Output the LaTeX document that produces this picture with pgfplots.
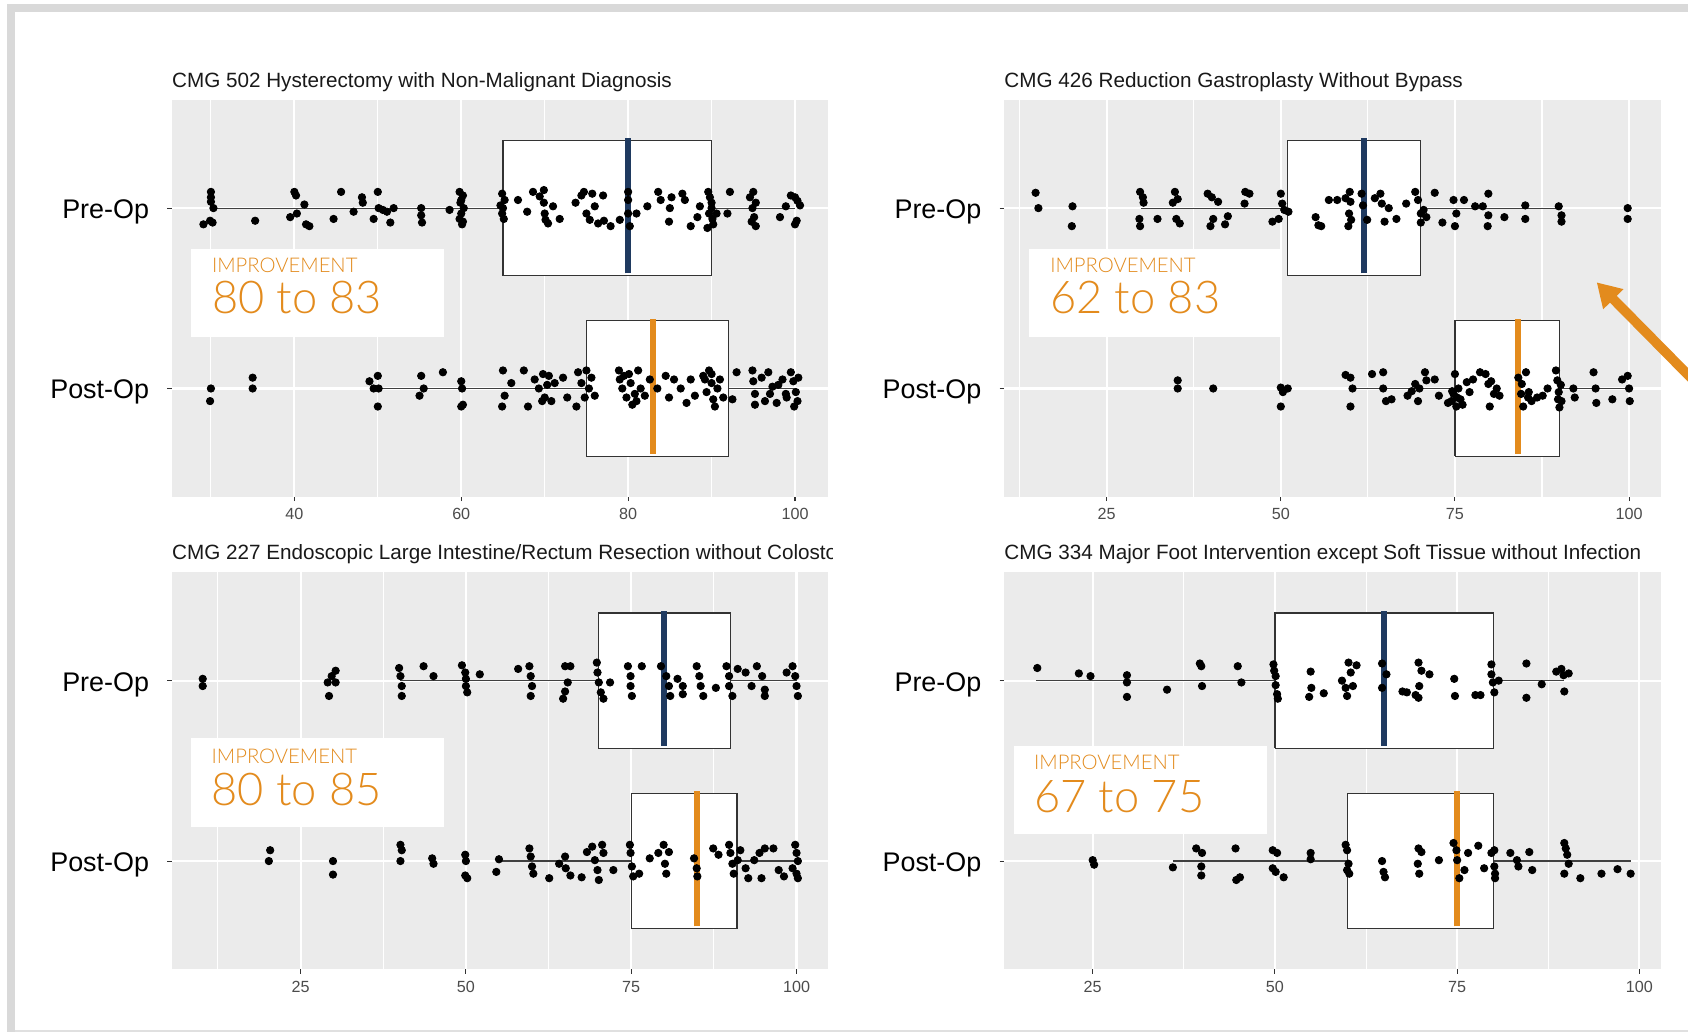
\documentclass[border=0pt]{standalone}
\usepackage{fontspec}
\setmainfont{Liberation Sans}
\IfFontExistsTF{Lato Light}{\newfontfamily\lightfont{Lato Light}}{\newfontfamily\lightfont{Liberation Sans}}
\usepackage{pgfplots}
\pgfplotsset{compat=1.18}
\usetikzlibrary{arrows.meta}
\definecolor{panelbg}{HTML}{EBEBEB}
\definecolor{orangeA}{HTML}{E38B1D}
\definecolor{navyA}{HTML}{1F3A60}
\definecolor{frameG}{HTML}{D9D9D9}
\pgfplotsset{
 panel/.style={
  scale only axis, width=305pt, height=184.3pt, anchor=south west,
  ymin=0.4, ymax=2.6, ytick={1,2}, yticklabels={Post-Op,Pre-Op},
  axis background/.style={fill=panelbg},
  axis line style={draw=none},
  xmajorgrids, xminorgrids, ymajorgrids,
  major grid style={white, line width=1pt},
  minor grid style={white, line width=0.5pt},
  tick align=outside, xtick pos=left, ytick pos=left,
  major tick length=2pt, minor tick length=0pt,
  major tick style={black!80, line width=0.5pt},
  minor tick style={draw=none},
  /pgf/number format/assume math mode=true,
  xticklabel style={font=\fontsize{7.5}{9}\selectfont, text=black!70},
  yticklabel style={font=\fontsize{12.5}{15}\selectfont, text=black, xshift=-5pt, yshift=-1.8pt},
 },
 pts/.style={only marks, mark=*, mark size=1.7pt, mark options={draw=black, fill=black}},
 boxs/.style={draw=black!80, line width=0.55pt, fill=white, mark=none},
 whs/.style={black!75, line width=0.55pt, mark=none},
 medpre/.style={navyA, line width=2.8pt, mark=none},
 medpost/.style={orangeA, line width=2.8pt, mark=none},
}
\newcommand{\titlefont}{\fontsize{9.6}{11}\selectfont}
\newcommand{\impfont}{\lightfont\fontsize{9.4}{11}\selectfont}
\newcommand{\numfont}{\lightfont\fontsize{21}{24}\selectfont}
\begin{document}
\begin{tikzpicture}
\useasboundingbox (0,0) rectangle (784pt,479.5pt);
\fill[white] (0,0) rectangle (784pt,479.5pt);

% ---------------- Panel 1 ----------------
\begin{axis}[panel, at={(79.75pt,248.8pt)}, xmin=25.3, xmax=104.0,
  xtick={40,60,80,100}, minor xtick={30,50,70,90}]
\addplot[whs] coordinates {(30,2) (65,2)};
\addplot[whs] coordinates {(90,2) (100,2)};
\addplot[boxs] coordinates {(65,1.625) (90,1.625) (90,2.375) (65,2.375) (65,1.625)};
\addplot[whs] coordinates {(50,1) (75,1)};
\addplot[whs] coordinates {(92,1) (100,1)};
\addplot[boxs] coordinates {(75,0.625) (92,0.625) (92,1.375) (75,1.375) (75,0.625)};
\addplot[pts] table {
x y
30 2.09
30 2.06
30 2.035
30.3 2.0
29.9 1.93
29.1 1.91
30.2 1.92
35.3 1.93
40 2.09
40.2 2.07
40.3 1.97
39.5 1.95
41.2 2.02
41.4 1.91
41.8 1.90
44.7 1.94
45.6 2.09
47.1 1.98
48.1 2.06
48.2 2.03
49.5 1.94
50 2.09
50.1 2.0
50.6 1.99
51.5 1.92
51.9 2.0
51.1 1.98
55.2 2.0
55.2 1.96
55.3 1.92
58.6 1.99
59.8 2.09
60.2 2.07
60 2.045
59.9 2.03
60.3 2.0
60 1.97
59.8 1.94
60.2 1.925
60.1 1.91
64.9 2.08
65.2 2.045
64.7 2.015
65 2.0
64.9 1.97
65.1 1.94
66.8 2.045
67.9 1.98
68.6 2.09
69.9 2.10
69.4 2.065
69.9 2.03
70 1.97
70.1 1.935
70.4 1.915
71 2.01
71.8 1.94
73.7 2.03
74.4 2.07
74.7 2.09
75 1.97
75.4 1.935
75.7 2.08
76 2.01
76.4 1.915
77 2.07
77.1 1.93
77.9 1.90
79 1.935
80 2.09
80 2.045
80 1.97
80.2 1.90
81 1.97
82.3 2.01
83.6 2.09
83.9 2.045
84.9 1.925
85 2.0
85.2 2.06
86.5 2.08
86.8 2.045
87.5 1.90
88.3 1.95
88.6 2.01
89.6 2.09
89.8 2.06
90 2.03
90 2.0
89.7 1.97
90.1 1.94
90.2 1.91
89.5 1.89
90.6 1.97
91.9 1.97
92.2 2.09
94.6 2.06
95 2.09
95.3 2.03
94.9 2.0
95.1 1.95
94.8 1.925
95.3 1.90
98.2 1.95
98.9 2.01
99.5 2.07
100 2.06
100.2 1.93
100 1.91
100.6 2.015
100.3 2.04
};
\addplot[pts] table {
x y
30 1.0
29.9 0.93
35 1.06
35 1.0
49 1.04
49.5 1.0
50 1.07
50.1 1.0
50 0.90
55 0.96
55.2 1.07
55.5 1.0
57.8 1.09
60 1.04
60.1 1.0
60.2 0.91
60 0.90
65 1.10
65.2 0.96
64.9 0.90
66 1.03
67.5 1.10
68 0.90
68.8 1.05
69.3 1.0
69.8 1.08
70 0.95
70.3 1.02
70.8 0.93
71.2 1.03
72.2 1.06
72.7 0.95
73.8 0.90
74 1.09
74.4 1.03
74.8 0.95
75 1.10
75.3 1.0
76 0.96
78.9 1.10
79 1.05
79.3 1.0
79.8 0.95
80.1 1.08
80.5 0.91
81.2 1.10
81.5 1.0
82 0.96
82.6 1.05
83.5 1.0
84.5 1.07
84.9 0.95
85.5 1.05
86.3 1.0
87 0.92
87.5 1.05
88 0.96
89 1.07
89.4 0.98
89.7 1.10
90 1.03
90.2 0.94
90.4 0.90
91 1.05
92.5 0.94
93 1.09
94.9 1.10
95 1.04
95.2 0.97
95.2 0.91
96 1.06
96.4 0.93
97.3 1.01
97.8 0.92
98.5 1.05
98.9 0.97
99.5 1.09
99.8 1.04
100.1 0.98
100.3 0.93
99.9 0.90
100.4 1.06
79.5 1.07
80.3 1.03
80.8 0.97
81 0.93
89.2 1.05
90.7 1.0
91.4 0.95
90 1.08
96.8 1.09
97 0.97
98 1.02
99 0.95
70.5 1.07
69.7 0.93
75.6 1.06
};
\addplot[medpre] coordinates {(80,1.638) (80,2.386)};
\addplot[medpost] coordinates {(83,0.638) (83,1.386)};
\end{axis}

% ---------------- Panel 2 ----------------
\begin{axis}[panel, at={(466.3pt,248.8pt)}, width=305.2pt, xmin=10.26, xmax=104.6,
  xtick={25,50,75,100}, minor xtick={12.5,37.5,62.5,87.5}]
\addplot[whs] coordinates {(30,2) (51,2)};
\addplot[whs] coordinates {(70,2) (90,2)};
\addplot[boxs] coordinates {(51,1.625) (70,1.625) (70,2.375) (51,2.375) (51,1.625)};
\addplot[whs] coordinates {(60,1) (75,1)};
\addplot[whs] coordinates {(90,1) (100,1)};
\addplot[boxs] coordinates {(75,0.625) (90,0.625) (90,1.375) (75,1.375) (75,0.625)};
\addplot[pts] table {
x y
14.8 2.085
15.2 2.0
20.1 2.01
20.0 1.90
29.8 2.09
30.2 2.06
30.3 2.03
29.7 1.94
29.8 1.90
32.3 1.94
34.8 2.09
35.2 2.05
34.5 2.03
35.0 1.94
35.5 1.915
39.5 2.08
40.1 2.06
41.0 2.035
40.3 1.94
39.9 1.90
42.0 1.91
42.4 1.955
44.9 2.09
45.5 2.08
44.8 2.025
48.8 1.925
50.0 2.08
50.2 2.025
50.5 1.99
51.1 1.98
49.7 1.94
55.0 1.95
55.4 1.905
55.8 1.90
56.9 2.045
58.1 2.045
59.3 2.055
59.9 2.09
60.0 2.035
59.8 1.97
60.1 1.935
59.7 1.90
61.6 2.08
61.8 2.015
62.4 1.935
63.5 2.055
64.3 2.08
64.5 2.025
64.9 1.925
65.5 2.0
66.6 1.94
68.0 2.025
69.3 2.09
69.7 2.045
70.1 1.97
70.1 1.92
70.5 1.99
70.9 1.95
72.1 2.085
73.2 1.92
74.8 2.045
75.2 1.97
75.0 1.90
76.3 2.045
77.9 2.01
79.0 2.01
79.8 2.08
79.8 1.96
79.7 1.90
82.1 1.95
85.1 2.015
85.1 1.94
89.9 2.01
90.3 1.96
90.3 1.925
99.8 2.0
99.8 1.94
};
\addplot[pts] table {
x y
35.2 1.045
35.2 1.0
40.3 1.0
50.0 1.005
50.3 0.98
50.0 0.90
51.0 1.0
59.3 1.075
60.0 1.06
60.3 1.0
60.0 0.90
63.1 1.08
64.7 1.09
64.7 1.0
65.1 0.93
65.9 0.94
68.2 0.96
68.8 0.985
69.3 1.025
69.7 0.93
69.9 1.0
70.7 1.09
70.9 1.045
72.1 1.05
72.7 0.96
74.0 0.92
74.6 0.985
75.0 1.08
75.2 0.90
75.8 0.94
75.5 1.0
76.7 1.035
77.1 0.98
77.6 1.05
78.6 1.09
79.4 1.08
79.8 1.025
80.0 0.90
80.6 0.97
81.4 0.96
84.1 1.06
84.6 1.025
84.8 0.90
85.2 1.09
85.6 0.98
86.0 0.93
86.8 0.95
87.6 0.96
88.3 1.0
89.5 1.10
89.7 1.045
89.9 0.98
90.0 0.895
90.3 0.93
92.0 1.0
92.2 0.95
94.9 1.09
95.2 1.0
95.3 0.92
97.6 0.94
99.0 1.05
99.8 1.07
100.0 1.0
100.1 0.93
74.5 0.93
75.3 0.95
74.8 0.97
76.1 0.91
80.2 1.04
81 1.0
89.8 0.94
90.2 1.02
85.5 0.95
84.5 0.97
};
\addplot[medpre] coordinates {(62,1.638) (62,2.386)};
\addplot[medpost] coordinates {(84,0.638) (84,1.386)};
\end{axis}

% ---------------- Panel 3 ----------------
\begin{axis}[panel, at={(79.75pt,29.3pt)}, height=184.35pt, xmin=5.51, xmax=104.82,
  xtick={25,50,75,100}, minor xtick={12.5,37.5,62.5,87.5}]
\addplot[whs] coordinates {(40,2) (70,2)};
\addplot[whs] coordinates {(90,2) (100,2)};
\addplot[boxs] coordinates {(70,1.625) (90,1.625) (90,2.375) (70,2.375) (70,1.625)};
\addplot[whs] coordinates {(55,1) (75,1)};
\addplot[whs] coordinates {(91,1) (100,1)};
\addplot[boxs] coordinates {(75,0.625) (91,0.625) (91,1.375) (75,1.375) (75,0.625)};
\addplot[pts] table {
x y
10.2 2.01
10.2 1.97
29.1 1.99
29.3 1.915
29.7 2.025
30.3 2.055
30.3 1.99
39.9 2.07
40.1 2.025
40.3 1.97
40.3 1.915
43.6 2.08
45.1 2.025
49.4 2.085
49.9 2.045
50.0 2.01
50.0 1.97
50.2 1.935
52.1 2.035
57.9 2.065
59.6 2.08
59.8 2.025
60.0 1.97
59.8 1.915
65.0 2.08
65.8 2.08
65.4 1.99
65.0 1.94
64.7 1.90
69.8 2.10
69.9 2.045
70.1 1.99
70.4 1.935
70.8 1.90
71.8 1.99
74.5 2.08
74.9 2.025
74.9 1.97
75.1 1.915
76.6 2.08
79.5 2.08
80.3 2.025
80.7 1.97
80.9 1.915
82.0 2.01
82.8 1.97
82.8 1.925
84.9 2.08
85.3 2.025
85.5 1.97
85.9 1.915
87.8 1.96
89.4 2.08
89.8 2.025
89.8 1.97
90.3 1.915
91.1 2.065
92.3 2.045
93.2 1.97
94.0 2.08
94.8 2.025
95.2 1.95
95.2 1.915
98.5 2.045
99.4 2.08
99.8 2.025
100.0 1.97
100.2 1.915
};
\addplot[pts] table {
x y
20.4 1.06
20.2 1.0
29.9 1.0
29.9 0.925
40.1 1.09
40.3 1.06
40.1 1.0
44.9 1.015
45.1 0.985
49.9 1.035
50.0 1.0
49.9 0.92
50.2 0.905
54.6 0.94
55.0 1.01
59.6 1.07
59.8 1.025
60.0 0.97
60.2 0.93
62.6 0.905
64.1 0.985
65.0 1.025
65.1 0.96
65.8 0.92
67.5 0.91
68.3 1.05
69.1 1.08
69.5 1.005
69.9 0.95
70.1 0.895
70.6 1.09
70.8 1.045
72.3 0.95
74.8 1.09
74.9 1.045
75.1 0.97
75.3 0.915
76.2 0.93
77.8 1.015
79.1 1.045
79.9 1.09
80.1 0.985
80.3 0.93
80.7 1.05
84.5 1.015
84.9 0.96
85.0 0.915
87.4 1.07
88.2 1.035
89.8 1.09
90.0 1.045
90.3 0.985
90.5 0.93
91.1 1.005
91.5 1.06
92.3 0.96
92.7 0.905
93.6 1.005
94.4 1.045
94.7 0.905
95.2 1.07
96.5 1.07
97.3 0.95
98.1 0.915
99.4 0.96
99.8 1.09
100.0 1.045
100.2 1.0
100.0 0.93
100.2 0.905
};
\addplot[medpre] coordinates {(80,1.638) (80,2.386)};
\addplot[medpost] coordinates {(85,0.638) (85,1.386)};
\end{axis}

% ---------------- Panel 4 ----------------
\begin{axis}[panel, at={(466.3pt,29.3pt)}, width=305.2pt, height=184.35pt, xmin=12.83, xmax=102.98,
  xtick={25,50,75,100}, minor xtick={37.5,62.5,87.5}]
\addplot[whs] coordinates {(17.2,2) (50,2)};
\addplot[whs] coordinates {(80,2) (89.6,2)};
\addplot[boxs] coordinates {(50,1.625) (80,1.625) (80,2.375) (50,2.375) (50,1.625)};
\addplot[whs] coordinates {(36,1) (60,1)};
\addplot[whs] coordinates {(80,1) (98.8,1)};
\addplot[boxs] coordinates {(60,0.625) (80,0.625) (80,1.375) (60,1.375) (60,0.625)};
\addplot[pts] table {
x y
17.4 2.07
23.1 2.04
24.7 2.025
29.7 2.03
29.7 1.99
29.7 1.91
35.2 1.95
39.7 2.095
39.9 2.08
40.0 1.97
44.9 2.08
45.4 1.99
49.8 2.09
49.9 2.055
50.1 2.025
50.1 1.975
50.3 1.925
50.4 1.90
54.9 2.05
54.7 1.91
55.0 1.96
56.7 1.93
59.2 2.0
59.7 1.96
59.9 1.915
60.1 2.10
60.4 2.045
61.2 2.085
60.7 1.97
64.7 2.095
65.3 2.035
64.7 1.96
67.5 1.94
68.1 1.935
69.3 1.92
69.7 2.10
69.8 1.97
70.1 2.055
71.2 2.035
69.7 1.905
74.6 2.01
74.7 1.915
77.5 1.92
78.2 1.92
79.7 2.09
79.7 2.035
79.9 1.99
80.1 1.935
80.7 2.0
84.5 2.095
84.5 1.905
86.6 1.98
88.6 2.05
89.3 2.065
89.6 2.03
89.7 1.94
90.3 2.04
};
\addplot[pts] table {
x y
25.0 1.005
25.2 0.98
36.0 0.965
39.2 1.07
40.0 1.045
39.9 0.97
39.9 0.92
44.6 1.07
44.7 0.895
45.2 0.91
49.7 1.06
50.3 1.045
49.7 0.96
50.1 0.94
51.2 0.91
54.9 1.045
54.9 1.01
59.7 1.09
59.9 1.06
60.1 0.985
59.9 0.95
60.2 0.93
64.7 1.0
64.9 0.94
65.1 0.91
69.7 1.07
70.1 1.05
69.6 0.985
69.8 0.93
72.5 1.005
74.5 1.10
74.9 1.06
75.0 1.005
75.3 0.905
76.0 0.95
76.5 1.045
77.9 1.085
78.7 0.96
79.7 1.045
80.1 1.06
80.1 0.97
80.2 0.93
80.2 0.905
82.3 1.045
83.2 1.005
83.4 0.97
84.9 1.05
85.3 0.95
89.7 1.10
89.9 1.07
90.1 1.035
90.3 0.985
89.7 0.93
91.9 0.905
94.8 0.93
97.0 0.955
98.8 0.93
};
\addplot[medpre] coordinates {(65,1.638) (65,2.386)};
\addplot[medpost] coordinates {(75,0.638) (75,1.386)};
\end{axis}

% ---------------- titles ----------------
\node[anchor=base west, inner sep=0pt, font=\titlefont, text=black!90] at (79.75pt,438.95pt) {CMG 502 Hysterectomy with Non-Malignant Diagnosis};
\node[anchor=base west, inner sep=0pt, font=\titlefont, text=black!90] at (466.3pt,438.95pt) {CMG 426 Reduction Gastroplasty Without Bypass};
\begin{scope}
\clip (0,200pt) rectangle (386.75pt,240pt);
\node[anchor=base west, inner sep=0pt, font=\titlefont, text=black!90] at (79.75pt,219.5pt) {CMG 227 Endoscopic Large Intestine/Rectum Resection without Colostomy};
\end{scope}
\node[anchor=base west, inner sep=0pt, font=\titlefont, text=black!90] at (466.3pt,219.5pt) {CMG 334 Major Foot Intervention except Soft Tissue without Infection};

% ---------------- improvement boxes ----------------
\fill[white] (88.7pt,323pt) rectangle (206.25pt,364pt);
\node[anchor=base west, inner sep=0pt, font=\impfont, text=orangeA] at (98.3pt,353pt) {IMPROVEMENT};
\node[anchor=base west, inner sep=0pt, font=\numfont, text=orangeA] at (98.3pt,334pt) {80 to 83};

\fill[white] (478.1pt,323.1pt) rectangle (595.65pt,364pt);
\node[anchor=base west, inner sep=0pt, font=\impfont, text=orangeA] at (487.6pt,353pt) {IMPROVEMENT};
\node[anchor=base west, inner sep=0pt, font=\numfont, text=orangeA] at (487.6pt,334pt) {62 to 83};

\fill[white] (88.65pt,95.5pt) rectangle (206.35pt,136.55pt);
\node[anchor=base west, inner sep=0pt, font=\impfont, text=orangeA] at (98.1pt,125pt) {IMPROVEMENT};
\node[anchor=base west, inner sep=0pt, font=\numfont, text=orangeA] at (98.1pt,105.3pt) {80 to 85};

\fill[white] (471pt,92.15pt) rectangle (588.6pt,133pt);
\node[anchor=base west, inner sep=0pt, font=\impfont, text=orangeA] at (480.1pt,122.15pt) {IMPROVEMENT};
\node[anchor=base west, inner sep=0pt, font=\numfont, text=orangeA] at (480.1pt,102.2pt) {67 to 75};

% ---------------- arrow ----------------
\begin{scope}
\clip (0,0) rectangle (784pt,479.5pt);
\draw[orangeA, line width=4.5pt, -{Triangle[length=11pt,width=12.5pt]}] (815pt,274pt) -- (741.6pt,348.35pt);
\end{scope}

% ---------------- slide frame ----------------
\fill[frameG] (3.25pt,473.95pt) rectangle (784pt,477.65pt);
\fill[frameG] (3.25pt,0pt) rectangle (6.95pt,477.65pt);
\fill[black!12] (6.95pt,0pt) rectangle (784pt,1.1pt);
\end{tikzpicture}
\end{document}
